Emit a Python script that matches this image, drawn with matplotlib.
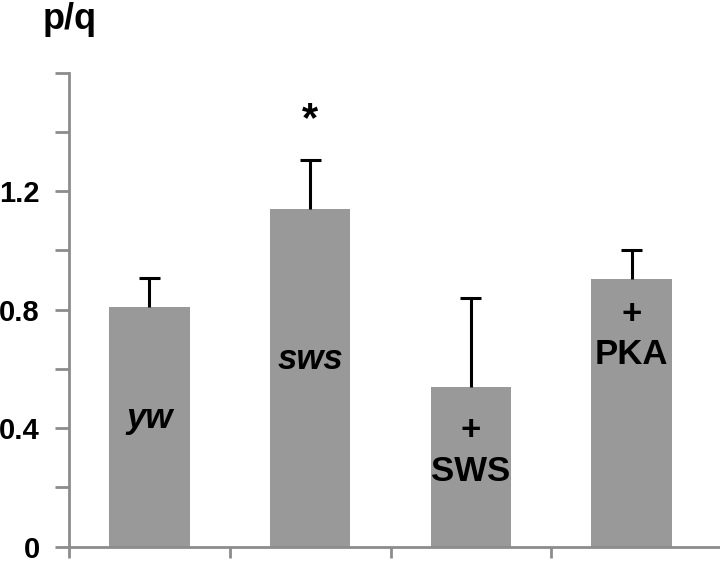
import matplotlib.pyplot as plt
import numpy as np

plt.rcParams['font.family'] = ['Liberation Sans', 'DejaVu Sans']

groups = ['yw', 'sws', '+ SWS', '+ PKA']
means = [0.81, 1.14, 0.54, 0.903]
errors = [0.097, 0.167, 0.30, 0.097]
y_tick_labels = ['0', '', '0.4', '', '0.8', '', '1.2', '', '']

axis_col = '#8c8c8c'
bar_col = '#999999'

fig = plt.figure(figsize=(7.2, 5.64), dpi=100)
ax = fig.add_axes([0.096, 0.031, 0.904, 0.84])

x = np.arange(len(groups))
tops = np.array(means) + np.array(errors)
ax.bar(x, means, width=0.5, color=bar_col, edgecolor='none', zorder=2)
# only the upper half of the error bar, as in the original
ax.vlines(x, means, tops, color='black', linewidth=2.2, zorder=3)
ax.hlines(tops, x - 0.065, x + 0.065, color='black', linewidth=2.2, zorder=3)

ax.set_xlim(-0.5, 3.55)
ax.set_ylim(0, 1.6)
ax.set_yticks(np.arange(0, 1.61, 0.2))
ax.set_yticklabels(y_tick_labels, fontsize=21, fontweight='bold')
ax.set_xticks([-0.5, 0.5, 1.5, 2.5])
ax.set_xticklabels([])

for s in ['top', 'right']:
    ax.spines[s].set_visible(False)
for s in ['left', 'bottom']:
    ax.spines[s].set_color(axis_col)
    ax.spines[s].set_linewidth(2)
ax.tick_params(axis='y', direction='out', length=10, width=2, color=axis_col, pad=11)
ax.tick_params(axis='x', direction='out', length=8, width=2, color=axis_col)

fig.text(0.097, 0.965, 'p/q', fontsize=26, fontweight='bold', ha='center', va='center')

lab = dict(fontsize=25, fontweight='bold', ha='center', va='center', zorder=4)
ax.text(0, 0.433, 'yw', style='italic', **lab)
ax.text(1, 0.633, 'sws', style='italic', **lab)
ax.text(2, 0.393, '+', **lab)
ax.text(2, 0.253, 'SWS', **lab)
ax.text(3, 0.783, '+', **lab)
ax.text(3, 0.65, 'PKA', **lab)
ax.text(1, 1.44, '*', fontsize=30, fontweight='bold', ha='center', va='center')

fig.savefig('out.png', dpi=100)
